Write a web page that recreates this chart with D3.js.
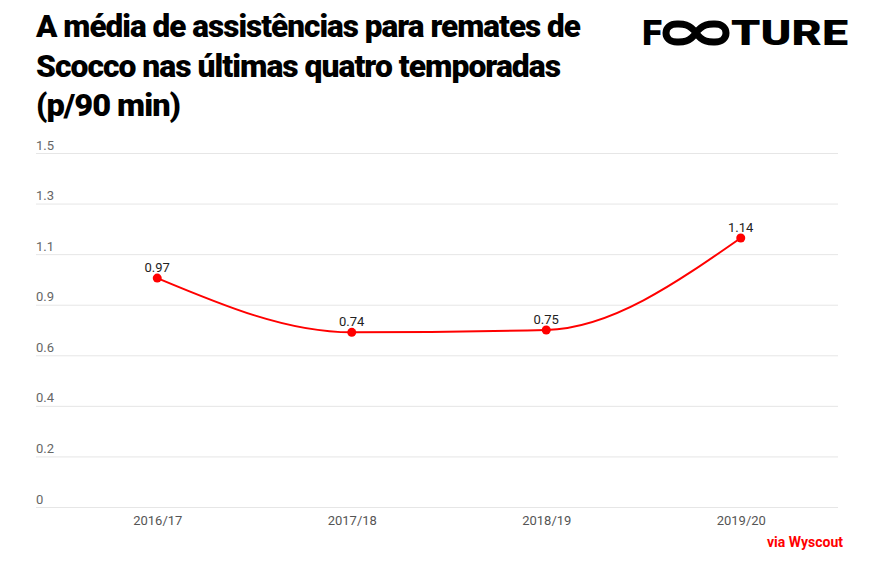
<!DOCTYPE html>
<html>
<head>
<meta charset="utf-8">
<script src="https://cdn.jsdelivr.net/npm/d3@7"></script>
<style>
  html, body { margin: 0; padding: 0; background: #fff; }
  svg { display: block; }
</style>
</head>
<body>
<svg id="chart" width="875" height="563"></svg>
<script>
const categories = ["2016/17", "2017/18", "2018/19", "2019/20"];
const values = [0.97, 0.74, 0.75, 1.14];
const yMax = 1.5;
const tickCount = 7;
const titleLines = [
  "A média de assistências para remates de",
  "Scocco nas últimas quatro temporadas",
  "(p/90 min)"
];
const sourceText = "via Wyscout";

(function () {
const svg = d3.select("#chart");
const gridLeft = 36, gridRight = 838;
const plotLeft = 60, plotRight = 838;
const plotTop = 153, plotBottom = 507;

// Title
const titleWidths = [544, 524, 144];
svg.append("g").selectAll("text").data(titleLines).join("text")
  .attr("x", 36)
  .attr("y", (d, i) => 37 + i * 39.5)
  .attr("font-family", "Roboto, sans-serif")
  .attr("font-weight", 900)
  .attr("font-size", 32)
  .attr("letter-spacing", -1)
  .attr("fill", "#000")
  .attr("textLength", (d, i) => titleWidths[i])
  .attr("lengthAdjust", "spacingAndGlyphs")
  .text(d => d);

// Logo
const logo = svg.append("g").attr("fill", "#000");
logo.append("text").attr("x", 642).attr("y", 45)
  .attr("font-family", "Roboto, sans-serif").attr("font-weight", 900)
  .attr("font-size", 35).attr("textLength", 20).attr("lengthAdjust", "spacingAndGlyphs")
  .text("F");
logo.append("path")
  .attr("d", "M696,33 C689,23 681,24 677,24 C670,24 666,28 666,33 C666,38 670,42 677,42 C681,42 689,43 696,33 C703,23 711,24 715,24 C722,24 726,28 726,33 C726,38 722,42 715,42 C711,42 703,43 696,33 Z")
  .attr("fill", "none").attr("stroke", "#000").attr("stroke-width", 7);
logo.append("text").attr("x", 731).attr("y", 45)
  .attr("font-family", "Roboto, sans-serif").attr("font-weight", 900)
  .attr("font-size", 35).attr("textLength", 117).attr("lengthAdjust", "spacingAndGlyphs")
  .text("TURE");

// Scales
const x = d3.scalePoint().domain(categories).range([plotLeft, plotRight]).padding(0.5);
const y = d3.scaleLinear().domain([0, yMax]).range([plotBottom, plotTop]);
const ticks = d3.range(tickCount + 1).map(i => i * yMax / tickCount);
const fmt = v => v === 0 ? "0" : d3.format(".1f")(v);

// Y grid + labels
const gy = svg.append("g").attr("transform", `translate(${gridRight},0)`);
gy.call(d3.axisRight(y).tickValues(ticks).tickSize(-(gridRight - gridLeft)).tickFormat(fmt));
gy.select(".domain").remove();
gy.selectAll(".tick line").attr("stroke", "#e6e6e6").attr("stroke-width", 1);
gy.selectAll(".tick text")
  .attr("x", -(gridRight - gridLeft))
  .attr("dy", -4)
  .attr("text-anchor", "start")
  .attr("font-family", "Roboto, sans-serif")
  .attr("font-size", 13)
  .attr("fill", "#666");

// X labels
const gx = svg.append("g").attr("transform", `translate(0,${plotBottom})`);
gx.call(d3.axisBottom(x).tickSize(0).tickPadding(9));
gx.select(".domain").remove();
gx.selectAll(".tick text")
  .attr("dy", "0.71em")
  .attr("font-family", "Roboto, sans-serif")
  .attr("font-size", 13)
  .attr("fill", "#555");

// Line
const data = categories.map((c, i) => ({ c, v: values[i] }));
const line = d3.line().x(d => x(d.c)).y(d => y(d.v)).curve(d3.curveMonotoneX);
svg.append("path").datum(data)
  .attr("d", line)
  .attr("fill", "none")
  .attr("stroke", "#ff0000")
  .attr("stroke-width", 2);

svg.append("g").selectAll("circle").data(data).join("circle")
  .attr("cx", d => x(d.c)).attr("cy", d => y(d.v)).attr("r", 4.5)
  .attr("fill", "#ff0000");

svg.append("g").selectAll("text").data(data).join("text")
  .attr("x", d => x(d.c)).attr("y", d => y(d.v) - 6)
  .attr("text-anchor", "middle")
  .attr("font-family", "Roboto, sans-serif")
  .attr("font-size", 13)
  .attr("fill", "#222")
  .text(d => d3.format(".2f")(d.v));

// Source
svg.append("text").attr("x", 843).attr("y", 547)
  .attr("text-anchor", "end")
  .attr("font-family", "Roboto, sans-serif")
  .attr("font-weight", 700)
  .attr("font-size", 14)
  .attr("fill", "#ff0000")
  .text(sourceText);
})();
</script>
</body>
</html>
